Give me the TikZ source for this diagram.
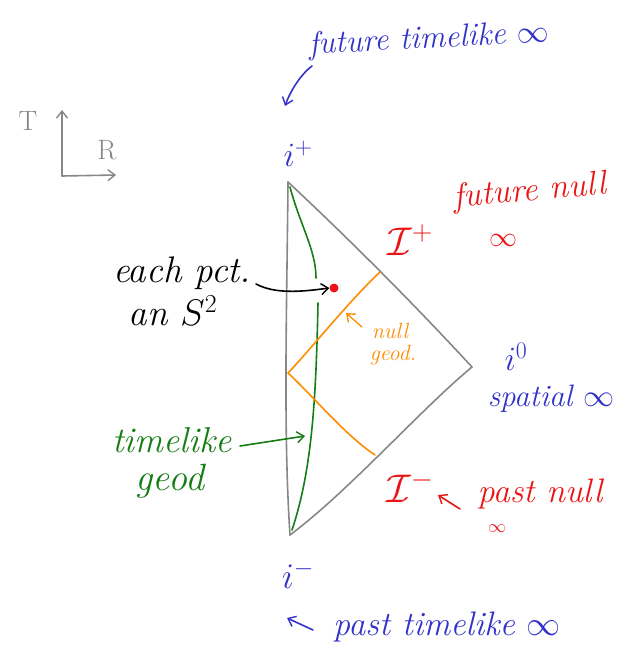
\RequirePackage{fix-cm}
\documentclass[tikz,border=0pt]{standalone}
\usetikzlibrary{arrows.meta,calc}
\definecolor{hblue}{RGB}{50,50,200}
\definecolor{hred}{RGB}{235,20,20}
\definecolor{hgreen}{RGB}{20,125,20}
\definecolor{horange}{RGB}{255,140,0}
\definecolor{hgray}{RGB}{135,135,135}
\begin{document}
\begin{tikzpicture}[x=1pt,y=-1pt,
  hw/.style={font=\fontsize{#1}{#1}\selectfont\itshape, inner sep=0pt, align=left},
  edge/.style={hgray, line width=1.6pt, line cap=round, line join=round},
  pen/.style={line width=1.6pt, line cap=round, line join=round},
  barb/.style={-{Straight Barb[length=7pt,width=11pt,line width=1.4pt]}}]
\useasboundingbox (0,0) rectangle (621,658);

% axes
\coordinate (O) at (62,176);
\coordinate (Tend) at (62,110);
\coordinate (Rend) at (116,175);
\draw[edge, barb] (O) -- (Tend);
\draw[edge, barb] (O) -- (Rend);
\node[hgray, font=\fontsize{28}{28}\selectfont, inner sep=0pt] (T) at (28,121) {T};
\node[hgray, font=\fontsize{28}{28}\selectfont, inner sep=0pt] (R) at (107,150) {R};

% triangle
\coordinate (ip) at (288,182);
\coordinate (im) at (290,535);
\coordinate (io) at (472,367);
\draw[edge] (ip) .. controls (287,300) and (283,430) .. (im);
\draw[edge] (ip) .. controls (350,240) and (410,300) .. (io);
\draw[edge] (io) .. controls (420,410) and (350,490) .. (im);

% green timelike geodesic
\coordinate (g1) at (290,187);
\coordinate (g2) at (316,278);
\coordinate (g3) at (318,303);
\coordinate (g4) at (292,530);
\draw[pen, hgreen] (g1) .. controls (300,225) and (316,250) .. (g2);
\draw[pen, hgreen] (g3) .. controls (316,400) and (312,470) .. (g4);

% orange null geodesics
\coordinate (n1) at (380,272);
\coordinate (n2) at (288,373);
\coordinate (n3) at (375,455);
\draw[pen, horange] (n1) .. controls (350,300) and (310,350) .. (n2)
  .. controls (312,395) and (345,435) .. (n3);

% red point
\node[circle, fill=hred, minimum size=9pt, inner sep=0pt] (dot) at (334,288) {};

% labels
\node[hw=32, hblue, rotate=3] (fut) at (429,40) {future timelike $\infty$};
\node[hw=34, hblue] (ipl) at (298,154) {$i^+$};
\coordinate (futA) at (312,66);
\coordinate (futB) at (285,106);
\draw[pen, hblue, barb] (futA) .. controls (300,75) and (290,92) .. (futB);

\node[hw=37, text=black] (each) at (182,273) {each pct.};
\node[hw=37, text=black] (anS) at (173,311) {an $S^2$};
\coordinate (eachA) at (256,284);
\draw[pen, barb] (eachA) .. controls (275,294) and (300,292) .. (dot.west);

\node[hw=22, horange] (nullw) at (390,331) {null};
\node[hw=22, horange] (geodw) at (393,355) {geod.};
\coordinate (nullA) at (362,327);
\coordinate (nullB) at (346,313);
\draw[pen, horange, line width=1.3pt, barb] (nullA) -- (nullB);

\node[hw=36, hgreen] (tl) at (172,440) {timelike};
\node[hw=38, hgreen] (gd) at (170,481) {geod};
\coordinate (tlA) at (240,446);
\coordinate (tlB) at (305,436);
\draw[pen, hgreen, barb] (tlA) -- (tlB);

\node[hw=40, hred] (scp) at (410,240) {$\mathcal{I}^+$};
\node[hw=34, hred, rotate=5] (fnull) at (530,192) {future null};
\node[hw=28, hred] (finf) at (503,240) {$\infty$};

\node[hw=34, hblue] (i0l) at (516,357) {$i^0$};
\node[hw=31, hblue] (spat) at (551,399) {spatial $\infty$};

\node[hw=40, hred] (scm) at (410,487) {$\mathcal{I}^-$};
\coordinate (pnB) at (438,495);
\coordinate (pnA) at (460,509);
\draw[pen, hred, barb] (pnA) -- (pnB);
\node[hw=34, hred] (pnull) at (540,494) {past null};
\node[hw=18, hred] (pinf) at (497,529) {$\infty$};

\node[hw=36, hblue] (iml) at (298,575) {$i^-$};
\coordinate (ptA) at (313,630);
\coordinate (ptB) at (287,618);
\draw[pen, hblue, barb] (ptA) -- (ptB);
\node[hw=34, hblue] (ptl) at (447,627) {past timelike $\infty$};
\end{tikzpicture}
\end{document}
